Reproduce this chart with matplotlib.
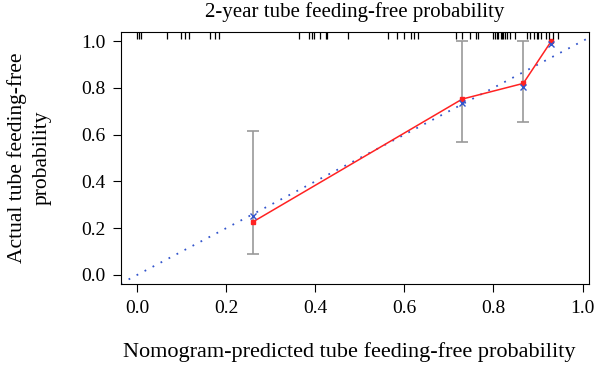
import matplotlib
matplotlib.use("Agg")
import matplotlib.pyplot as plt

plt.rcParams["font.family"] = ["Liberation Serif", "DejaVu Serif"]

# calibration groups
predicted = [0.261, 0.730, 0.867, 0.930]
observed = [0.228, 0.752, 0.819, 1.000]
corrected = [0.253, 0.734, 0.805, 0.986]
ci_low = [0.088, 0.570, 0.653, 1.000]
ci_high = [0.615, 1.000, 1.000, 1.000]

# distribution of predictions (rug on top)
rug = [0.000, 0.004, 0.009, 0.067, 0.099, 0.108, 0.117, 0.164, 0.175, 0.184,
       0.364, 0.387, 0.393, 0.398, 0.411, 0.425, 0.427, 0.474, 0.564, 0.584,
       0.600, 0.616, 0.622, 0.631, 0.715, 0.730, 0.748, 0.760, 0.766, 0.800,
       0.804, 0.809, 0.811, 0.816, 0.820, 0.822, 0.827, 0.831, 0.838, 0.849,
       0.876, 0.883, 0.890, 0.897, 0.901, 0.906, 0.917, 0.924, 0.933, 0.946]

ticks = [0.0, 0.2, 0.4, 0.6, 0.8, 1.0]

fig = plt.figure(figsize=(6, 3.67), dpi=100)
ax = fig.add_axes([0.201, 0.2253, 0.781, 0.6883])

ax.set_xlim(-0.037, 1.015)
ax.set_ylim(-0.04, 1.04)

# ideal line
ax.axline((0, 0), (1, 1), color="#3355cc", linestyle=(0, (1, 4)), linewidth=1.3)

# error bars
ax.errorbar(predicted[:3], observed[:3],
            yerr=[[o - l for o, l in zip(observed[:3], ci_low[:3])],
                  [h - o for o, h in zip(observed[:3], ci_high[:3])]],
            fmt="none", ecolor="#999999", elinewidth=1.2, capsize=4, capthick=1.2)

ax.plot(predicted, observed, color="#ff2222", linewidth=1.1,
        marker="s", markersize=3, markerfacecolor="#ff2222", markeredgecolor="#ff2222")
ax.plot(predicted, corrected, linestyle="none", marker="x", color="#3355cc",
        markersize=4, markeredgewidth=1.0)

ax.vlines(rug, 0.972, 1.0, transform=ax.get_xaxis_transform(), color="black", linewidth=0.9)

ax.set_xticks(ticks)
ax.set_yticks(ticks)
ax.set_xticklabels([f"{t:.1f}" for t in ticks])
ax.set_yticklabels([f"{t:.1f}" for t in ticks])
ax.tick_params(direction="out", length=6, width=0.8, labelsize=14, pad=5)

for s in ax.spines.values():
    s.set_linewidth(0.8)

ax.text(0.5, 1.078, "2-year tube feeding-free probability", transform=ax.transAxes,
        ha="center", va="center", fontsize=15)
ax.set_xlabel("Nomogram-predicted tube feeding-free probability", fontsize=16, va="center")
ax.xaxis.set_label_coords(0.4875, -0.268)
ax.set_ylabel("Actual tube feeding-free\nprobability", fontsize=15.5, va="center",
              ha="center", linespacing=1.35)
ax.yaxis.set_label_coords(-0.195, 0.5)

fig.savefig("out.png", dpi=100)
